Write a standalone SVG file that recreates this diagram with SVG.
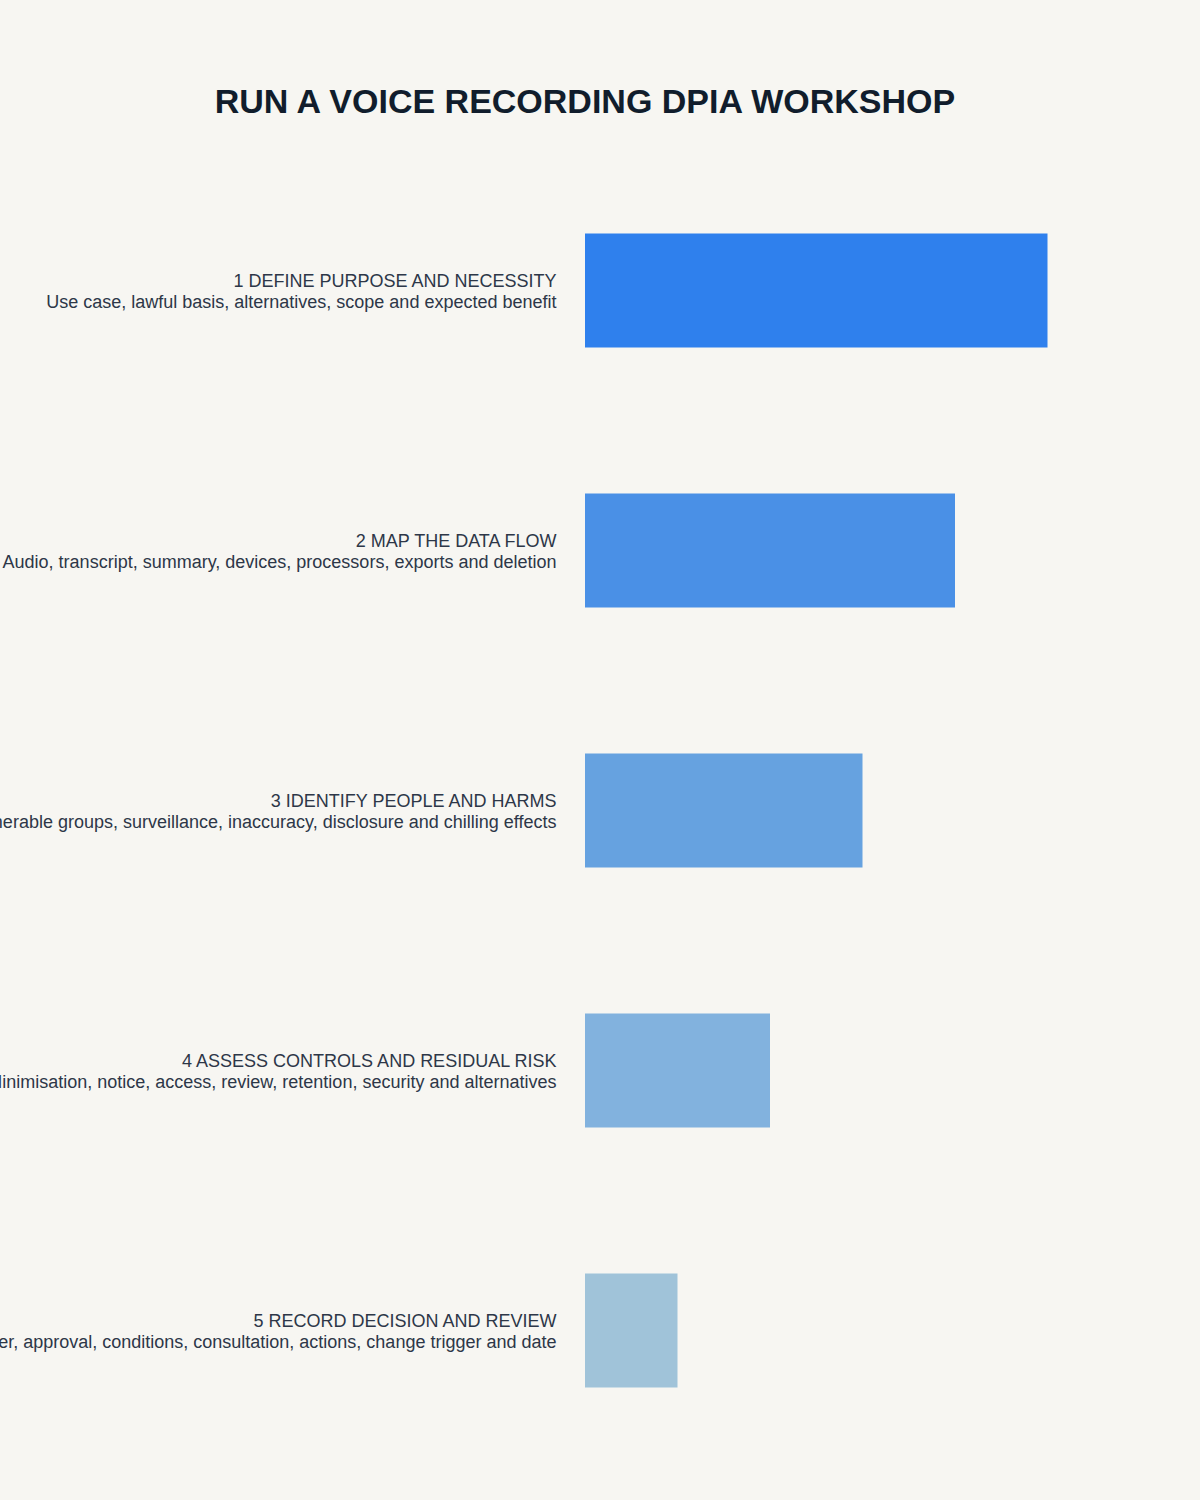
<svg xmlns="http://www.w3.org/2000/svg" width="1200" height="1500" viewBox="0 0 1200 1500">
<style>
.title{font-family:"Liberation Sans",Arial,sans-serif;font-size:34px;font-weight:bold;fill:#111d2c;text-anchor:middle}
.lbl{font-family:"Liberation Sans",Arial,sans-serif;font-size:18px;fill:#2d3748;text-anchor:end}
</style>
<rect width="1200" height="1500" fill="#f7f6f2"/>
<text class="title" x="585" y="112.5">RUN A VOICE RECORDING DPIA WORKSHOP</text>
<g id="connectors"/>
<g id="step1">
<rect x="585" y="233.5" width="462.5" height="114" fill="#2f80ed"/>
<text class="lbl" x="556.5" y="286.5">1 DEFINE PURPOSE AND NECESSITY</text>
<text class="lbl" x="556.5" y="308">Use case, lawful basis, alternatives, scope and expected benefit</text>
</g>
<g id="step2">
<rect x="585" y="493.5" width="370" height="114" fill="#4a90e6"/>
<text class="lbl" x="556.5" y="546.5">2 MAP THE DATA FLOW</text>
<text class="lbl" x="556.5" y="568">Audio, transcript, summary, devices, processors, exports and deletion</text>
</g>
<g id="step3">
<rect x="585" y="753.5" width="277.5" height="114" fill="#66a2e0"/>
<text class="lbl" x="556.5" y="806.5">3 IDENTIFY PEOPLE AND HARMS</text>
<text class="lbl" x="556.5" y="828">Vulnerable groups, surveillance, inaccuracy, disclosure and chilling effects</text>
</g>
<g id="step4">
<rect x="585" y="1013.5" width="185" height="114" fill="#82b2de"/>
<text class="lbl" x="556.5" y="1066.5">4 ASSESS CONTROLS AND RESIDUAL RISK</text>
<text class="lbl" x="556.5" y="1088">Minimisation, notice, access, review, retention, security and alternatives</text>
</g>
<g id="step5">
<rect x="585" y="1273.5" width="92.5" height="114" fill="#a0c3d9"/>
<text class="lbl" x="556.5" y="1326.5">5 RECORD DECISION AND REVIEW</text>
<text class="lbl" x="556.5" y="1348">Owner, approval, conditions, consultation, actions, change trigger and date</text>
</g>
</svg>
